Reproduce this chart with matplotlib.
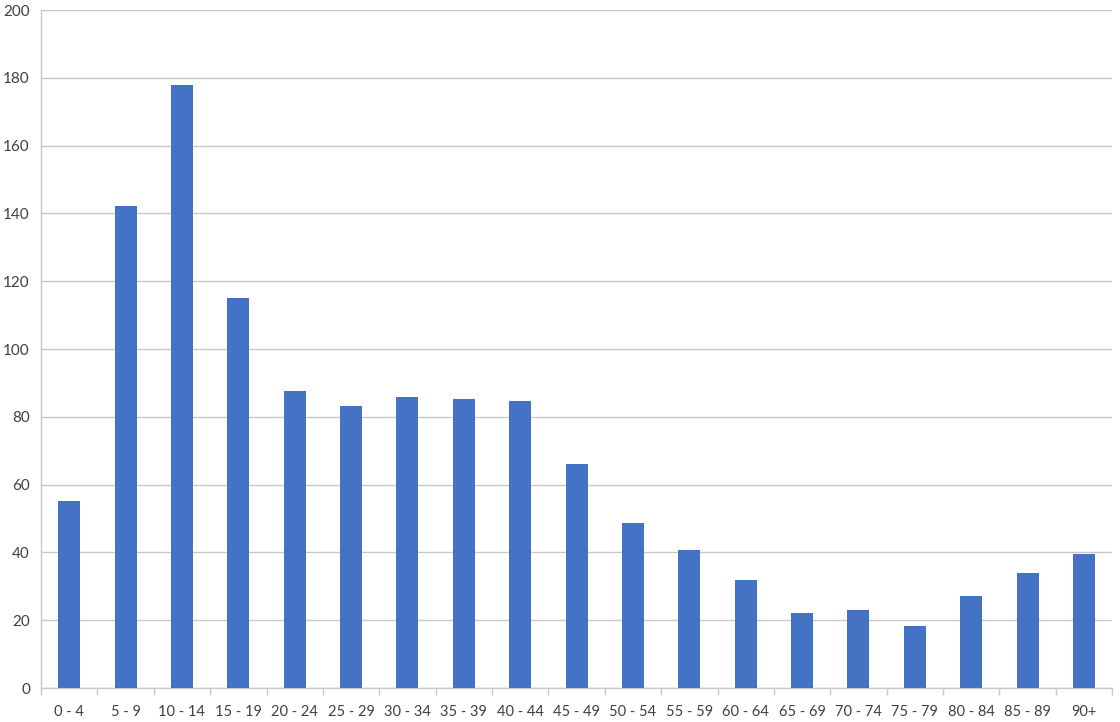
import numpy as np
import matplotlib
matplotlib.use("Agg")
import matplotlib.pyplot as plt
from matplotlib.ticker import FixedLocator, NullFormatter

# Age groups and counts
age_groups = ["0 - 4", "5 - 9", "10 - 14", "15 - 19", "20 - 24", "25 - 29",
              "30 - 34", "35 - 39", "40 - 44", "45 - 49", "50 - 54", "55 - 59",
              "60 - 64", "65 - 69", "70 - 74", "75 - 79", "80 - 84", "85 - 89",
              "90+"]
counts = [55.2, 142.2, 177.9, 115.1, 87.6, 83.2, 85.9, 85.3, 84.7, 66.0,
          48.6, 40.7, 31.8, 22.2, 23.0, 18.2, 27.2, 33.9, 39.6]
y_ticks = [0, 20, 40, 60, 80, 100, 120, 140, 160, 180, 200]

plt.rcParams["font.family"] = ["Lato", "DejaVu Sans"]

fig = plt.figure(figsize=(11.2, 7.22), dpi=100)
ax = fig.add_axes([0.0366, 0.047, 0.9564, 0.939])

x = np.arange(len(age_groups))
ax.bar(x, counts, width=0.39, color="#4472C4", zorder=3)

ax.set_xlim(-0.5, len(age_groups) - 0.5)
ax.set_ylim(0, 200)
ax.set_yticks(y_ticks)
ax.yaxis.grid(True, color="#C8C8C8", linewidth=1, zorder=0)
ax.tick_params(axis="y", length=0, pad=8, labelsize=11, labelcolor="#404040")

ax.set_xticks(x)
ax.set_xticklabels(age_groups)
ax.tick_params(axis="x", which="major", length=0, pad=12, labelsize=10.5,
               labelcolor="#404040")
ax.xaxis.set_minor_locator(FixedLocator(np.arange(-0.5, len(age_groups), 1)))
ax.xaxis.set_minor_formatter(NullFormatter())
ax.tick_params(axis="x", which="minor", length=5, color="#C8C8C8", width=1)

for side in ["top", "right"]:
    ax.spines[side].set_visible(False)
for side in ["left", "bottom"]:
    ax.spines[side].set_color("#C8C8C8")
    ax.spines[side].set_linewidth(1)

fig.savefig("out.png", dpi=100)
